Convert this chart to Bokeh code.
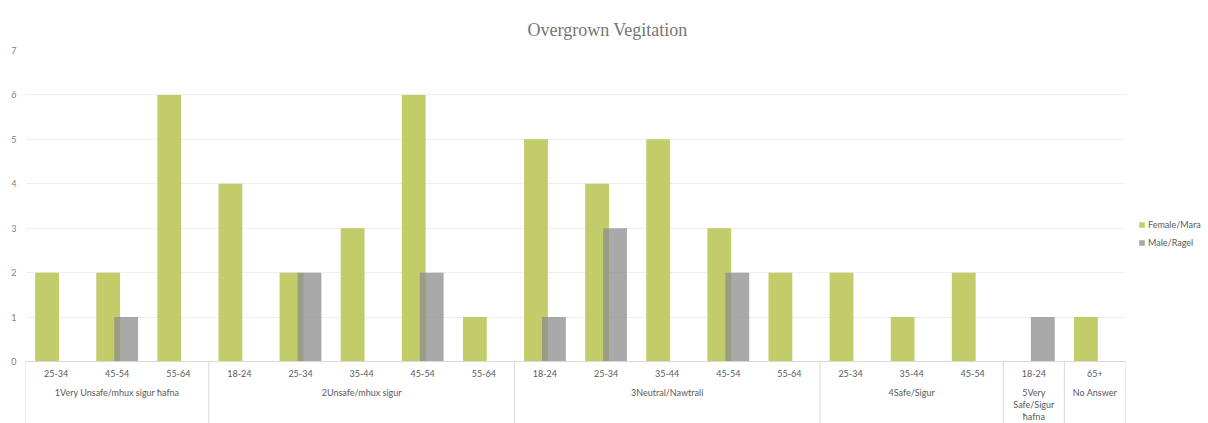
from bokeh.plotting import figure
from bokeh.models import (FactorRange, Range1d, FixedTicker, Legend, LegendItem,
                          ColumnDataSource, Span)
from bokeh.transform import dodge
from bokeh.core.properties import value
from bokeh.embed import file_html
from bokeh.resources import INLINE

# ---------------- data ----------------
title_text = "Overgrown Vegitation"
group_names = ["1Very Unsafe/mhux sigur ħafna", "2Unsafe/mhux sigur", "3Neutral/Nawtrali",
               "4Safe/Sigur", "5Very Safe/Sigur ħafna", "No Answer"]
group_labels = ["1Very Unsafe/mhux sigur ħafna", "2Unsafe/mhux sigur", "3Neutral/Nawtrali",
                "4Safe/Sigur", "5Very\nSafe/Sigur\nħafna", "No Answer"]
age_bands = [["25-34", "45-54", "55-64"],
             ["18-24", "25-34", "35-44", "45-54", "55-64"],
             ["18-24", "25-34", "35-44", "45-54", "55-64"],
             ["25-34", "35-44", "45-54"],
             ["18-24"],
             ["65+"]]
female = [2, 2, 6, 4, 2, 3, 6, 1, 5, 4, 5, 3, 2, 2, 1, 2, 0, 1]
male = [0, 1, 0, 0, 2, 0, 2, 0, 1, 3, 0, 2, 0, 0, 0, 0, 1, 0]
series_names = ["Female/Mara", "Male/Ragel"]
y_ticks = [0, 1, 2, 3, 4, 5, 6, 7]

GREEN = "#c2cd69"
GRAY = "#8c8c8c"
TXT = "#595959"
FONT = "Lato"

factors = [(g, a) for g, ages in zip(group_names, age_bands) for a in ages]
ages_flat = [a for ages in age_bands for a in ages]

x_range = FactorRange(*factors, factor_padding=0, group_padding=0, subgroup_padding=0,
                      range_padding=0)
y_min = -1.395
y_range = Range1d(y_min, 7)

p = figure(x_range=x_range, y_range=y_range, frame_width=1100, frame_height=373,
           output_backend="svg", toolbar_location=None,
           min_border_left=25, min_border_right=83, min_border_top=50, min_border_bottom=0)

src = ColumnDataSource(dict(x=factors, female=female, male=male, age=ages_flat))

rf = p.vbar(x=dodge("x", -0.147, range=p.x_range), top="female", width=0.39, source=src,
            fill_color=GREEN, line_color=None)
rm = p.vbar(x=dodge("x", 0.147, range=p.x_range), top="male", width=0.39, source=src,
            fill_color=GRAY, fill_alpha=0.75, line_color=None)

# x axis drawn inside the frame
p.add_layout(Span(location=0, dimension="width", line_color="#d9d9d9", line_width=1))
bounds = [(g, ages[0], -0.5) for g, ages in zip(group_names, age_bands)]
bounds.append((group_names[-1], age_bands[-1][-1], 0.5))
p.segment(x0=bounds, y0=[0] * len(bounds), x1=bounds, y1=[y_min] * len(bounds),
          line_color="#d9d9d9", line_width=1)

p.text(x="x", y=-0.27, text="age", source=src, text_align="center", text_baseline="middle",
       text_font=value(FONT), text_font_size="9px", text_color=TXT)
p.text(x=group_names, y=[-0.57] * len(group_names), text=group_labels,
       text_align="center", text_baseline="top", text_line_height=1.1,
       text_font=value(FONT), text_font_size="9px", text_color=TXT)

# y axis
p.yaxis.ticker = FixedTicker(ticks=y_ticks)
p.yaxis.axis_line_color = None
p.yaxis.major_tick_line_color = None
p.yaxis.minor_tick_line_color = None
p.yaxis.major_label_standoff = 3
p.yaxis.major_label_text_font = FONT
p.yaxis.major_label_text_font_size = "9px"
p.yaxis.major_label_text_color = "#7f7f7f"
p.xaxis.visible = False
p.xgrid.grid_line_color = None
p.ygrid.grid_line_color = "#efefef"
p.outline_line_color = None

# title
p.title.text = title_text
p.title.align = "left"
p.title.offset = 502
p.title.standoff = 22
p.title.text_font = "Liberation Serif"
p.title.text_font_size = "18px"
p.title.text_font_style = "normal"
p.title.text_color = "#757575"

legend = Legend(items=[LegendItem(label=series_names[0], renderers=[rf]),
                       LegendItem(label=series_names[1], renderers=[rm])],
                location=(13, 175), margin=0, padding=0, spacing=6,
                glyph_width=7, glyph_height=7, label_height=12, label_standoff=3,
                label_text_font=FONT, label_text_font_size="9px", label_text_color=TXT,
                border_line_color=None, background_fill_alpha=0)
p.add_layout(legend, "right")

open("out.html", "w").write(file_html(p, INLINE))
